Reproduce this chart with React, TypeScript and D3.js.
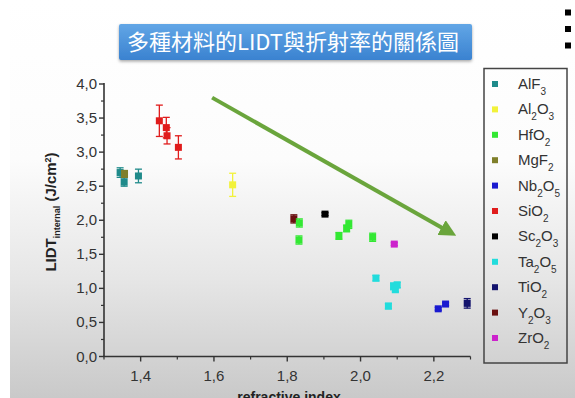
import React from "react";
import * as d3 from "d3";

// Refractive index vs. internal LIDT for a set of coating materials
type Pt = [number, number, number]; // [n, LIDT, error]

const materials = ["AlF3", "Al2O3", "HfO2", "MgF2", "Nb2O5", "SiO2", "Sc2O3", "Ta2O5", "TiO2", "Y2O3", "ZrO2"];

// legend label pieces: [text, isSubscript]
const legendLabels: [string, boolean][][] = [
  [["AlF", false], ["3", true]],
  [["Al", false], ["2", true], ["O", false], ["3", true]],
  [["HfO", false], ["2", true]],
  [["MgF", false], ["2", true]],
  [["Nb", false], ["2", true], ["O", false], ["5", true]],
  [["SiO", false], ["2", true]],
  [["Sc", false], ["2", true], ["O", false], ["3", true]],
  [["Ta", false], ["2", true], ["O", false], ["5", true]],
  [["TiO", false], ["2", true]],
  [["Y", false], ["2", true], ["O", false], ["3", true]],
  [["ZrO", false], ["2", true]],
];

const colors = ["#1f8a8a", "#f2f23a", "#33e833", "#7f7f2a", "#1a1ad0", "#e01c1c", "#000000", "#22dcdc", "#14146e", "#6a1010", "#cc22cc"];

const alf3: Pt[] = [[1.344, 2.70, 0.07], [1.355, 2.56, 0.06], [1.394, 2.65, 0.10]];
const al2o3: Pt[] = [[1.651, 2.52, 0.17]];
const hfo2: Pt[] = [[1.833, 1.96, 0.06], [1.832, 1.71, 0.06], [1.941, 1.77, 0.05], [1.962, 1.88, 0.05], [1.968, 1.94, 0.06], [2.033, 1.75, 0.06]];
const mgf2: Pt[] = [[1.356, 2.68, 0.05]];
const nb2o5: Pt[] = [[2.212, 0.70, 0.02], [2.232, 0.77, 0.02]];
const sio2: Pt[] = [[1.451, 3.46, 0.23], [1.470, 3.36, 0.15], [1.472, 3.24, 0.12], [1.503, 3.07, 0.17]];
const sc2o3: Pt[] = [[1.903, 2.09, 0.02]];
const ta2o5: Pt[] = [[2.042, 1.15, 0.04], [2.090, 1.03, 0.05], [2.100, 1.05, 0.04], [2.095, 0.98, 0.03], [2.076, 0.74, 0.04]];
const tio2: Pt[] = [[2.291, 0.78, 0.07]];
const y2o3: Pt[] = [[1.818, 2.02, 0.06]];
const zro2: Pt[] = [[2.092, 1.65, 0.02]];

const series: Pt[][] = [alf3, al2o3, hfo2, mgf2, nb2o5, sio2, sc2o3, ta2o5, tio2, y2o3, zro2];
// draw order so that overlapping markers stack the same way
const drawOrder = [0, 3, 5, 1, 9, 2, 6, 10, 7, 4, 8];

const xTicks = [1.4, 1.6, 1.8, 2.0, 2.2];
const xMinor = [1.3, 1.5, 1.7, 1.9, 2.1, 2.3];
const yTicks = [0, 0.5, 1, 1.5, 2, 2.5, 3, 3.5, 4];
const yMinor = [0.25, 0.75, 1.25, 1.75, 2.25, 2.75, 3.25, 3.75];

// trend arrow endpoints in data units [n, LIDT]
const trend: [number, number][] = [[1.595, 3.80], [2.245, 1.82]];

const title = "多種材料的LIDT與折射率的關係圖";

const W = 575;
const H = 398;

export default function App() {
  const x = d3.scaleLinear().domain([1.3, 2.3]).range([104, 470.5]);
  const y = d3.scaleLinear().domain([0, 4]).range([356.5, 84]);
  const fmt = (v: number) => d3.format(".1f")(v).replace(".", ",");
  const axisColor = "#333";
  const ms = 7;

  return (
    <div style={{ position: "fixed", left: 0, top: 0 }}>
      <svg width={W} height={H} style={{ display: "block" }} fontFamily="Liberation Sans, Arial, sans-serif">
        <defs>
          <linearGradient id="bg" x1="0" y1="0" x2="0" y2="1">
            <stop offset="0" stopColor="#ffffff" />
            <stop offset="0.4" stopColor="#fcfcfc" />
            <stop offset="0.7" stopColor="#e6e6e6" />
            <stop offset="1" stopColor="#c9c9c9" />
          </linearGradient>
          <linearGradient id="titleFill" x1="0" y1="0" x2="0" y2="1">
            <stop offset="0" stopColor="#62a6e6" />
            <stop offset="1" stopColor="#3a82d0" />
          </linearGradient>
          <filter id="shadow" x="-5%" y="-20%" width="110%" height="150%">
            <feDropShadow dx="0" dy="1.5" stdDeviation="1.5" floodColor="#000" floodOpacity="0.35" />
          </filter>
          <marker id="head" viewBox="0 0 10 10" refX="6" refY="5" markerWidth="4.2" markerHeight="4.2" orient="auto">
            <path d="M0,0 L10,5 L0,10 Z" fill="#6aa53c" />
          </marker>
        </defs>

        <rect x={0} y={0} width={W} height={H} fill="#ffffff" />
        <rect x={10} y={0} width={W - 10} height={H} fill="url(#bg)" />

        {/* corner bullets */}
        {[12.5, 29, 45.5].map((cy) => (
          <rect key={cy} x={565} y={cy - 3} width={6} height={6} fill="#000" />
        ))}

        {/* title banner */}
        <rect x={119} y={24} width={353} height={36} rx={2} fill="url(#titleFill)" filter="url(#shadow)" />
        <text x={293} y={50} textAnchor="middle" fill="#fff" fontSize={22}
          fontFamily="Noto Sans CJK TC, Noto Sans CJK SC, sans-serif">{title}</text>

        {/* axes */}
        <line x1={x(1.3)} x2={x(1.3)} y1={y(0)} y2={y(4) - 1} stroke={axisColor} strokeWidth={1.6} />
        <line x1={x(1.3) - 1} x2={x(2.3)} y1={y(0)} y2={y(0)} stroke={axisColor} strokeWidth={1.6} />
        {yTicks.map((t) => (
          <g key={"y" + t}>
            <line x1={x(1.3) - 5} x2={x(1.3)} y1={y(t)} y2={y(t)} stroke={axisColor} strokeWidth={1.4} />
            <text x={x(1.3) - 7} y={y(t) + 5} textAnchor="end" fontSize={15} fill="#333">{fmt(t)}</text>
          </g>
        ))}
        {yMinor.map((t) => (
          <line key={"ym" + t} x1={x(1.3) - 3} x2={x(1.3)} y1={y(t)} y2={y(t)} stroke={axisColor} strokeWidth={1.2} />
        ))}
        {xTicks.map((t) => (
          <g key={"x" + t}>
            <line x1={x(t)} x2={x(t)} y1={y(0)} y2={y(0) + 5} stroke={axisColor} strokeWidth={1.4} />
            <text x={x(t)} y={y(0) + 24} textAnchor="middle" fontSize={15} fill="#333">{fmt(t)}</text>
          </g>
        ))}
        {xMinor.map((t) => (
          <line key={"xm" + t} x1={x(t)} x2={x(t)} y1={y(0)} y2={y(0) + 3} stroke={axisColor} strokeWidth={1.2} />
        ))}

        {/* axis titles */}
        <text transform="translate(56,212) rotate(-90)" textAnchor="middle" fontSize={15} fontWeight="bold" fill="#222">
          <tspan>LIDT</tspan>
          <tspan fontSize={9} dy={4}>internal</tspan>
          <tspan dy={-4}> (J/cm</tspan>
          <tspan fontSize={9} dy={-5}>2</tspan>
          <tspan dy={5}>)</tspan>
        </text>
        <text x={289} y={402} textAnchor="middle" fontSize={14} fontWeight="bold" fill="#222">refractive index</text>

        {/* trend arrow */}
        <line x1={x(trend[0][0])} y1={y(trend[0][1])} x2={x(trend[1][0])} y2={y(trend[1][1])}
          stroke="#6aa53c" strokeWidth={4} markerEnd="url(#head)" />

        {/* data with error bars */}
        {drawOrder.map((si) => (
          <g key={materials[si]}>
            {series[si].map(([n, v, e], i) => {
              const cx = x(n);
              return (
                <g key={i} stroke={colors[si]} strokeWidth={1.3}>
                  <line x1={cx} x2={cx} y1={y(v - e)} y2={y(v + e)} />
                  <line x1={cx - 3.5} x2={cx + 3.5} y1={y(v - e)} y2={y(v - e)} />
                  <line x1={cx - 3.5} x2={cx + 3.5} y1={y(v + e)} y2={y(v + e)} />
                  <rect x={cx - ms / 2} y={y(v) - ms / 2} width={ms} height={ms} fill={colors[si]} stroke="none" />
                </g>
              );
            })}
          </g>
        ))}

        {/* legend */}
        <rect x={484} y={68.5} width={83} height={294.5} fill="none" stroke="#444" strokeWidth={1.5} />
        {materials.map((m, i) => {
          const cy = 84 + i * 25.4;
          return (
            <g key={m}>
              <rect x={492} y={cy - 3} width={6} height={6} fill={colors[i]} />
              <text x={518} y={cy + 5} fontSize={15} fill="#333">
                {legendLabels[i].map(([t, sub], k) => (
                  <tspan key={k} fontSize={sub ? 10 : 15} dy={sub ? 6 : (k > 0 ? -6 : 0)}>{t}</tspan>
                ))}
              </text>
            </g>
          );
        })}
      </svg>
    </div>
  );
}
